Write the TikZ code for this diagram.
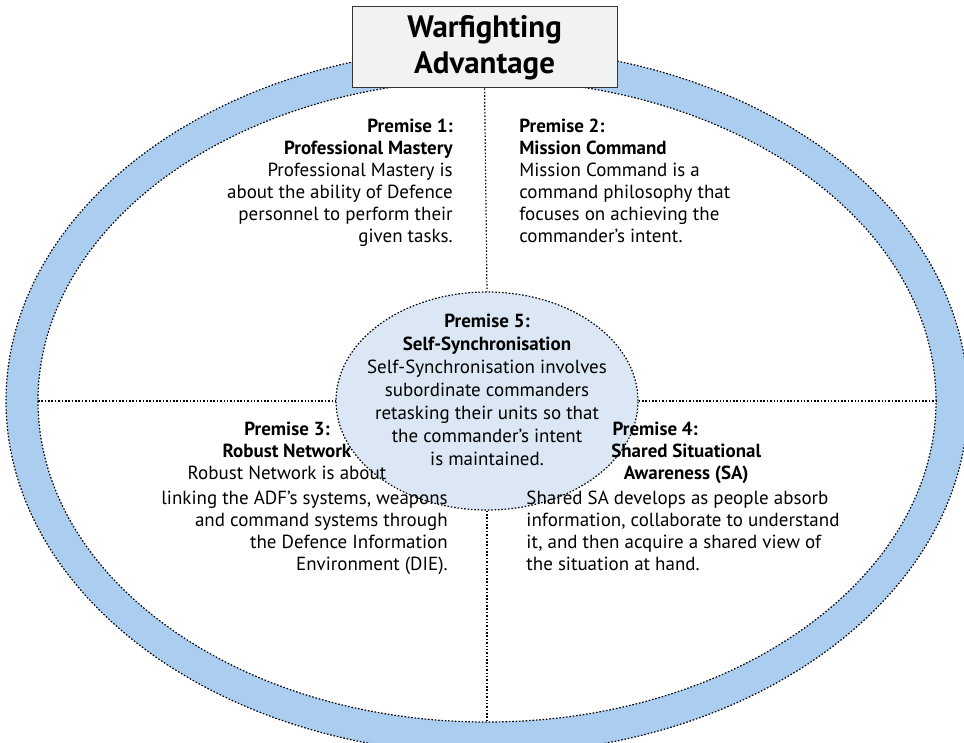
\documentclass[tikz,border=0pt]{standalone}
\usepackage{fontspec}
\setmainfont{PT Sans}
\usepackage{xcolor}
\usepackage{tikz}
\usetikzlibrary{shapes.geometric}

\definecolor{ringblue}{RGB}{171,205,239}
\definecolor{coreblue}{RGB}{219,231,244}
\definecolor{boxgrey}{RGB}{242,242,240}

\tikzset{
	dotline/.style={line width=0.85pt,dash pattern=on 1.1pt off 1.3pt},
	premise/.style={inner sep=0pt,font=\fontsize{13.5}{15.65}\selectfont},
}

\begin{document}
\begin{tikzpicture}
			\def\ao{12.025} \def\bo{8.825}
			\def\ai{11.225} \def\bi{8.025}
			
			\clip (-12.175,-8.525) rectangle (11.925,10.025);
			\useasboundingbox (-12.175,-8.525) rectangle (11.925,10.025);
			
			% ring between the two ellipses
			\fill[ringblue,even odd rule] (0,0) ellipse ({\ao} and {\bo}) (0,0) ellipse ({\ai} and {\bi});
			\draw[dotline] (0,0) ellipse ({\ao} and {\bo});
			\draw[dotline] (0,0) ellipse ({\ai} and {\bi});
			
			\coordinate (ringbot) at (0,-\bi);
			\coordinate (ringleft) at (-\ai,0);
			\coordinate (ringright) at (\ai,0);
			
			\node[draw=black!80,line width=0.8pt,fill=boxgrey,minimum width=6.625cm,minimum height=2.025cm,
			align=center,font=\fontsize{22}{25.6}\selectfont\bfseries] (title) at (-0.06,8.84)
			{Warfighting\\Advantage};
			
			\node[ellipse,draw,dotline,fill=coreblue,minimum width=7.55cm,minimum height=5.45cm,inner sep=0pt] (core) at (0,0) {};
			
			% dividing lines
			\draw[dotline] (title.south) -- (core.north);
			\draw[dotline] (core.south) -- (ringbot);
			\draw[dotline] (ringleft) -- (core.west);
			\draw[dotline] (core.east) -- (ringright);
			
			\node[premise,align=right,anchor=north east] (p1) at (-0.85,7.05)
			{\textbf{Premise 1:}\\\textbf{Professional Mastery}\\Professional Mastery is\\about the ability of Defence\\personnel to perform their\\given tasks.};
			
			\node[premise,align=left,anchor=north west] (p2) at (0.8,7.05)
			{\textbf{Premise 2:}\\\textbf{Mission Command}\\Mission Command is a\\command philosophy that\\focuses on achieving the\\commander's intent.};
			
			\node[premise,align=center,anchor=north,font=\fontsize{13.5}{16.3}\selectfont] (p5) at (0,2.175)
			{\textbf{Premise 5:}\\\textbf{Self-Synchronisation}\\Self-Synchronisation involves\\subordinate commanders\\retasking their units so that\\the commander's intent\\is maintained.};
			
			\node[premise,align=center,anchor=north] (p3head) at (-5.0,-0.525)
			{\textbf{Premise 3:}\\\textbf{Robust Network}\\Robust Network is about};
			\node[premise,align=right,anchor=north east] (p3body) at (-0.975,-2.25)
			{linking the ADF's systems, weapons\\and command systems through\\the Defence Information\\Environment (DIE).};
			
			\node[premise,align=center,anchor=north] (p4head) at (4.98,-0.525)
			{\textbf{Premise 4:}\hspace*{1.55cm}\\\textbf{Shared Situational}\\\textbf{Awareness (SA)}};
			\node[premise,align=left,anchor=north west] (p4body) at (0.98,-2.25)
			{Shared SA develops as people absorb\\information, collaborate to understand\\it, and then acquire a shared view of\\the situation at hand.};
		\end{tikzpicture}
\end{document}
